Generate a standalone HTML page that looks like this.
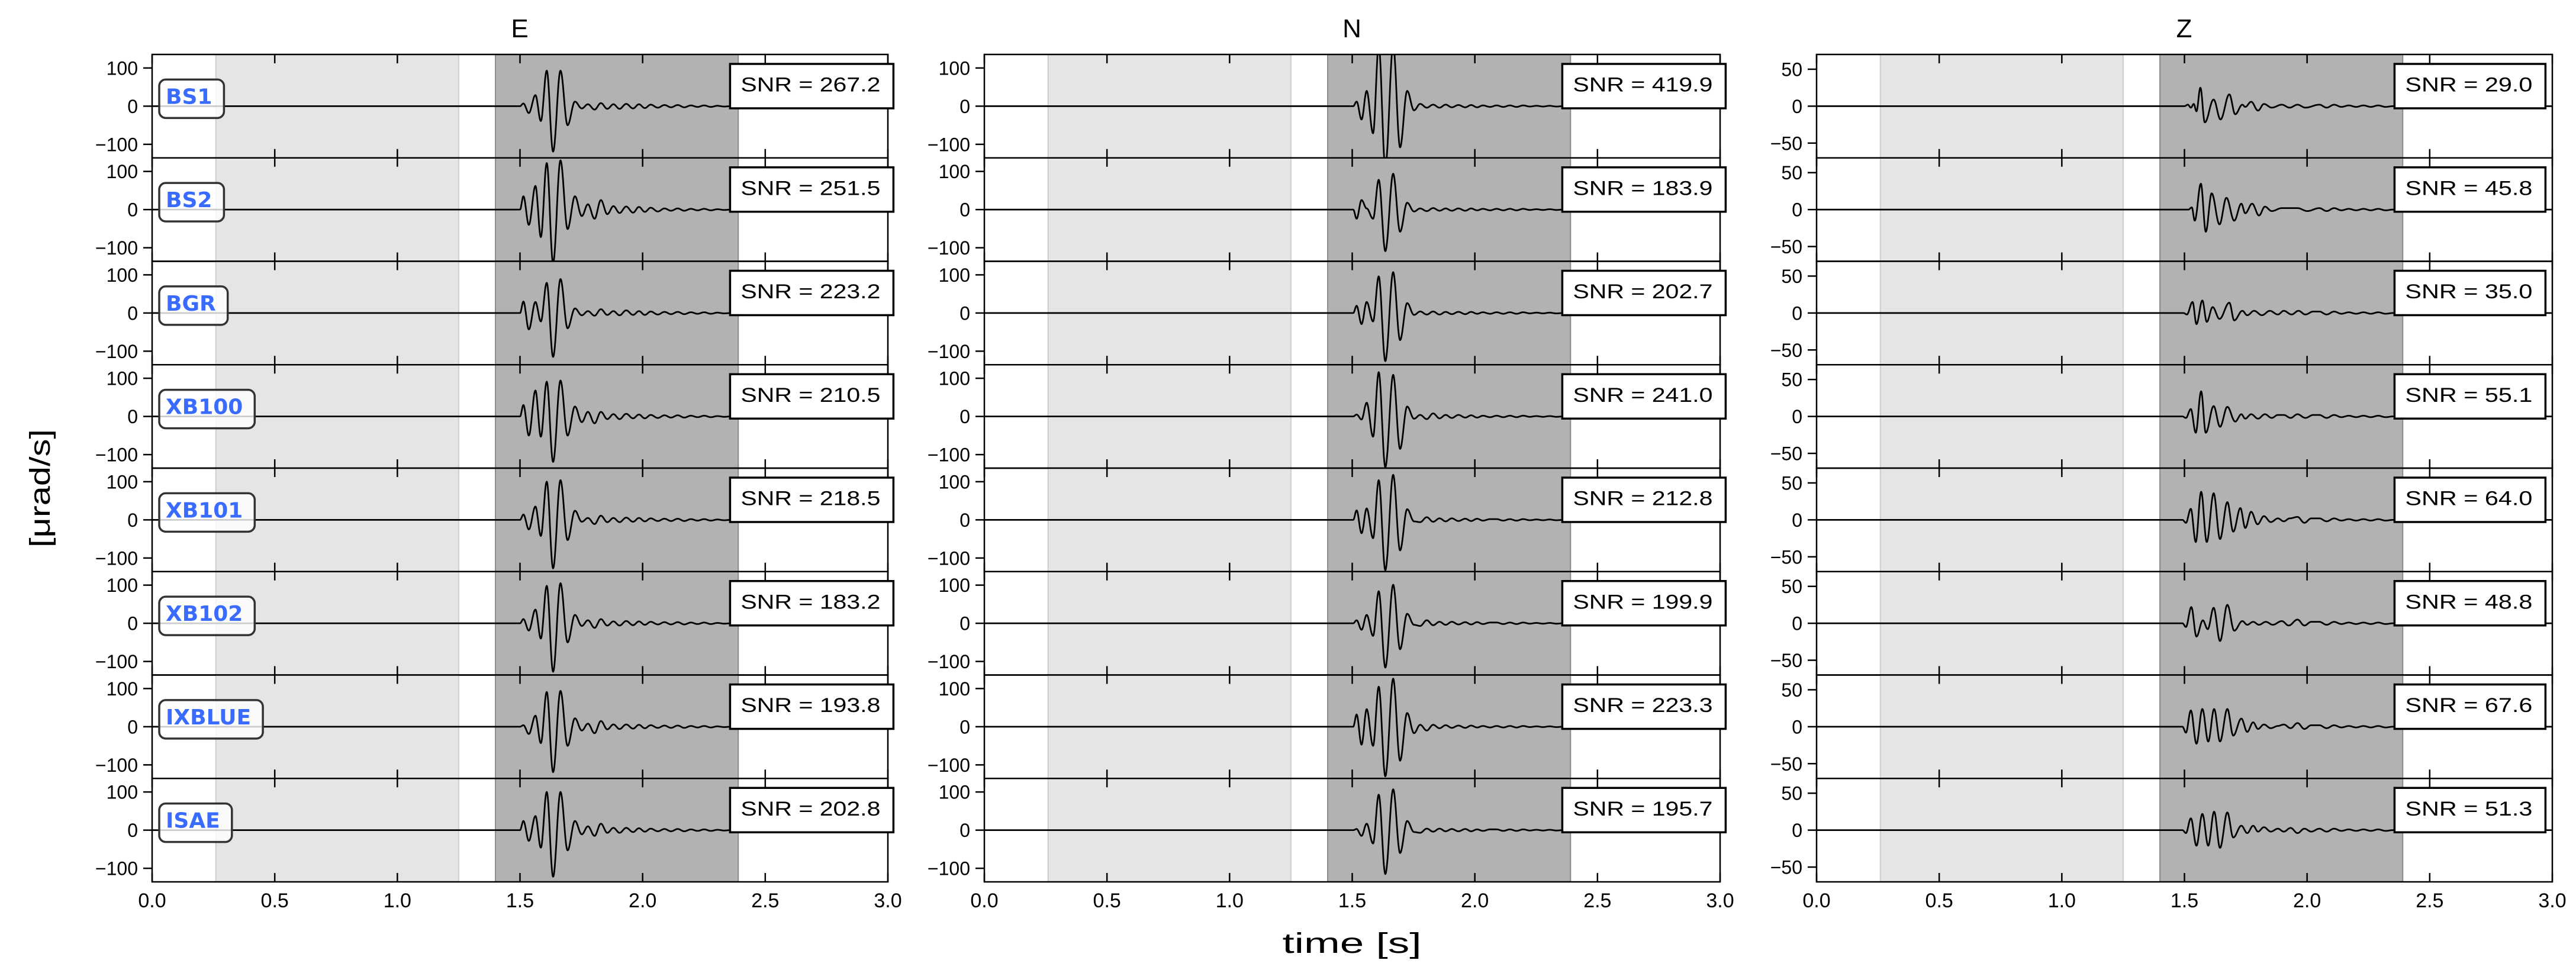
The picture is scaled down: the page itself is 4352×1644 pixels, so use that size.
<!DOCTYPE html>
<html><head><meta charset="utf-8">
<style>
html,body{margin:0;padding:0;background:#fff;}
svg{display:block;}
text{font-family:"Liberation Sans","DejaVu Sans",sans-serif;}
</style></head>
<body>
<svg id="fig" width="4352" height="1644" viewBox="0 0 4352 1644" xmlns="http://www.w3.org/2000/svg">
<rect width="4352" height="1644" fill="#fff"/>
<text x="878" y="63" font-size="44" text-anchor="middle">E</text>
<text x="2284" y="63" font-size="44" text-anchor="middle">N</text>
<text x="3690" y="63" font-size="44" text-anchor="middle">Z</text>
<text x="2284" y="1610" font-size="48" text-anchor="middle" textLength="235" lengthAdjust="spacingAndGlyphs">time [s]</text>
<text x="0" y="0" font-size="48" text-anchor="middle" transform="translate(84,825) rotate(-90)" textLength="200" lengthAdjust="spacingAndGlyphs">[μrad/s]</text>
<g id="plots"></g>
</svg>
<script>
const stations = ["BS1","BS2","BGR","XB100","XB101","XB102","IXBLUE","ISAE"];
const components = ["E","N","Z"];
const snrE = ["267.2","251.5","223.2","210.5","218.5","183.2","193.8","202.8"];
const snrN = ["419.9","183.9","202.7","241.0","212.8","199.9","223.3","195.7"];
const snrZ = ["29.0","45.8","35.0","55.1","64.0","48.8","67.6","51.3"];
const xTicks = [0,0.5,1.0,1.5,2.0,2.5,3.0];
const xTickLabels = ["0.0","0.5","1.0","1.5","2.0","2.5","3.0"];
const yTicksEN = [100,0,-100];
const yTicksZ = [50,0,-50];
const yLimEN = 135.5;
const yLimZ = 70;
const noiseWindow = [0.26,1.25];
const signalWindow = [1.40,2.39];

const eTimes = [1.514,1.536,1.563,1.585,1.609,1.635,1.665,1.694,1.724,1.752,1.777,1.804,1.830,1.856,1.881,1.906,1.933,1.961,1.985,2.009,2.033,2.062];
const eBS1   = [7,-18,29,-39,93,-119,93,-50,12,-6,5,-9,8,-7,5,-7,6,-6,5,-5,4,-4];
const eBS2   = [35,-40,62,-72,122,-140,129,-51,35,-17,14,-24,25,-12,9,-9,8,-8,7,-6,5,-5];
const eBGR   = [30,-43,29,-22,79,-115,89,-40,12,-6,5,-7,10,-5,5,-6,7,-5,5,-5,4,-4];
const eXB100 = [30,-50,68,-53,91,-119,94,-50,26,-15,12,-18,12,-7,6,-7,7,-5,5,-5,4,-4];
const eXB101 = [14,-25,35,-42,100,-127,104,-53,24,-5,5,-11,11,-6,5,-6,6,-5,5,-4,4,-3];
const eXB102 = [11,-19,36,-40,98,-127,105,-50,22,-7,8,-12,11,-6,5,-6,6,-5,5,-4,4,-3];
const eIXBLUE= [4,-19,29,-43,91,-119,94,-50,22,-10,8,-17,15,-7,6,-6,6,-5,5,-4,4,-3];
const eISAE  = [24,-28,37,-46,100,-122,100,-53,24,-11,10,-15,17,-7,6,-7,6,-5,5,-4,4,-3];
const eCodaTimes = [2.089,2.116,2.143,2.170,2.197,2.224,2.251,2.278,2.305,2.332,2.359];
const eCodaVals  = [3,-3,3,-3,2,-2,2,-2,1,-1,0];

const nTimes = [1.518,1.538,1.559,1.585,1.608,1.635,1.667,1.695,1.724,1.752,1.777,1.804,1.830,1.856,1.881,1.906,1.933,1.961,1.985,2.009,2.033,2.062];
const nBS1   = [12,-35,40,-71,160,-160,160,-108,40,-11,6,-4,4,-4,4,-3,3,-3,3,-3,2,-2];
const nBS2   = [-24,25,3,-24,78,-109,94,-58,18,-5,3,-4,4,-3,3,-3,3,-3,3,-2,2,-2];
const nBGR   = [19,-29,29,-22,96,-126,107,-71,26,-5,4,-4,4,-4,3,-3,3,-3,3,-2,2,-2];
const nXB100 = [5,-8,36,-53,116,-133,109,-85,26,-6,4,-7,8,-5,4,-4,4,-3,3,-3,2,-2];
const nXB101 = [25,-35,30,-48,104,-132,118,-80,28,-4,-6,7,-5,4,-4,4,-3,3,-3,3,-2,2];
const nXB102 = [8,-17,22,-33,84,-116,101,-68,25,-4,-7,8,-5,4,-4,4,-3,3,-3,3,-2,2];
const nIXBLUE= [32,-47,46,-50,105,-130,126,-89,36,-17,5,-10,5,-4,4,-3,3,-3,3,-2,2,-2];
const nISAE  = [3,-15,17,-35,93,-115,107,-60,24,-5,-7,4,-4,4,-3,3,-3,3,-3,2,-2,2];
const nCodaTimes = [2.089,2.116,2.143,2.170,2.197,2.224,2.251,2.278,2.305,2.332,2.359];
const nCodaVals  = [2,-2,2,-2,2,-1,1,-1,1,-1,0];

const zBS1Times = [1.514,1.526,1.538,1.549,1.565,1.583,1.619,1.647,1.683,1.707,1.736,1.748,1.772,1.800,1.824,1.856,1.897,1.929,1.961,1.993];
const zBS1      = [2,-2,3,-7,25,-22,9,-18,16,-11,2,-1,6,-6,3,-2,2,-2,2,-2];
const zBS2Times = [1.530,1.542,1.567,1.587,1.611,1.643,1.671,1.703,1.732,1.748,1.776,1.804,1.828,1.856,1.897,1.961,2.001];
const zBS2      = [3,-15,35,-30,22,-20,16,-15,8,-5,8,-8,4,-2,2,2,-2];
const zBGRTimes = [1.510,1.533,1.549,1.573,1.591,1.615,1.643,1.683,1.703,1.736,1.756,1.784,1.816,1.848,1.881,1.905,1.937,1.965,1.993,2.025];
const zBGR      = [-2,15,-15,17,-12,8,-8,14,-10,3,-3,3,-3,3,-2,3,-2,3,-2,2];
const zXB100Times = [1.506,1.526,1.546,1.568,1.587,1.619,1.645,1.675,1.707,1.732,1.748,1.772,1.800,1.828,1.856,1.881,1.905,1.933,1.961,1.993,2.025];
const zXB100      = [-2,10,-22,34,-22,14,-14,13,-7,3,-3,3,-3,3,-2,2,2,-2,3,-2,2];
const zXB101Times = [1.506,1.526,1.546,1.568,1.591,1.619,1.645,1.675,1.699,1.728,1.748,1.772,1.798,1.824,1.852,1.881,1.905,1.929,1.961,1.989,2.017];
const zXB101      = [-4,15,-30,38,-30,36,-26,24,-16,16,-11,11,-6,5,-3,2,-2,2,4,-4,2];
const zXB102Times = [1.506,1.528,1.549,1.575,1.595,1.619,1.645,1.675,1.703,1.736,1.756,1.780,1.804,1.832,1.860,1.897,1.925,1.961,1.989,2.017];
const zXB102      = [-5,22,-18,4,-8,21,-24,25,-10,3,-2,2,-2,2,-2,3,-3,5,-3,2];
const zIXBLUETimes = [1.506,1.526,1.549,1.573,1.597,1.621,1.645,1.675,1.699,1.732,1.756,1.780,1.800,1.824,1.852,1.881,1.905,1.933,1.961,1.989,2.017];
const zIXBLUE      = [-8,22,-23,24,-20,24,-20,24,-12,11,-7,6,-3,3,-2,1,3,-2,5,-3,2];
const zISAETimes   = [1.506,1.526,1.549,1.573,1.597,1.621,1.645,1.675,1.699,1.732,1.756,1.780,1.800,1.824,1.852,1.881,1.905,1.933,1.961,1.989,2.017];
const zISAE        = [-4,16,-21,22,-21,25,-24,24,-10,6,-4,6,-2,4,-2,2,-2,3,-4,2,-2];
const zCodaTimes = [2.05,2.08,2.11,2.14,2.17,2.20,2.23,2.26,2.29,2.32,2.35];
const zCodaVals  = [2,-2,2,-1,1,-1,1,-1,1,-1,0];

const eVals = [eBS1,eBS2,eBGR,eXB100,eXB101,eXB102,eIXBLUE,eISAE];
const nVals = [nBS1,nBS2,nBGR,nXB100,nXB101,nXB102,nIXBLUE,nISAE];
const zVals = [zBS1,zBS2,zBGR,zXB100,zXB101,zXB102,zIXBLUE,zISAE];
const zTimes = [zBS1Times,zBS2Times,zBGRTimes,zXB100Times,zXB101Times,zXB102Times,zIXBLUETimes,zISAETimes];

const NS = "http://www.w3.org/2000/svg";
const root = document.getElementById("plots");
const colX = [257,1663,3069], PW = 1243, TOP = 92, PH = 174.75;
function xs(c,t){ return colX[c] + t/3*PW; }
function ys(r,v,lim){ return TOP + r*PH + PH/2 - v/lim*(PH/2); }
function mk(tag, attrs, parent){
  const e = document.createElementNS(NS, tag);
  for (const k in attrs) e.setAttribute(k, attrs[k]);
  (parent||root).appendChild(e);
  return e;
}
const defs = mk("defs", {});

for (let c=0;c<3;c++){
  const lim = c===2 ? yLimZ : yLimEN;
  const yt = c===2 ? yTicksZ : yTicksEN;
  const snr = c===0 ? snrE : (c===1 ? snrN : snrZ);
  for (let r=0;r<8;r++){
    const top = TOP + r*PH;
    const g = mk("g", {});
    
    
    const cp = mk("clipPath", {id:"cp"+c+"_"+r}, defs);
    mk("rect", {x:colX[c], y:top, width:PW, height:PH}, cp);
    const nw = mk("rect", {x:xs(c,noiseWindow[0]), y:top, width:xs(c,noiseWindow[1])-xs(c,noiseWindow[0]), height:PH, fill:"#e5e5e5", stroke:"#cdcdcd", "stroke-width":2}, g);
    
    
    const sw = mk("rect", {x:xs(c,signalWindow[0]), y:top, width:xs(c,signalWindow[1])-xs(c,signalWindow[0]), height:PH, fill:"#b2b2b2", stroke:"#8a8a8a", "stroke-width":2}, g);
    
    

    let times, vals, codaT, codaV;
    if (c===0){ times=eTimes; vals=eVals[r]; codaT=eCodaTimes; codaV=eCodaVals; }
    else if (c===1){ times=nTimes; vals=nVals[r]; codaT=nCodaTimes; codaV=nCodaVals; }
    else { times=zTimes[r]; vals=zVals[r]; codaT=zCodaTimes; codaV=zCodaVals; }
    const pts = [[0,0],[times[0]-0.014,0]];
    for (let i=0;i<times.length;i++) pts.push([times[i], vals[i]]);
    const lastT = times[times.length-1];
    for (let i=0;i<codaT.length;i++) if (codaT[i] > lastT+0.015) pts.push([codaT[i], codaV[i]]);
    pts.push([pts[pts.length-1][0]+0.02,0]);
    pts.push([3,0]);
    let d = "M"+xs(c,0).toFixed(1)+","+ys(r,0,lim).toFixed(1);
    for (let i=1;i<pts.length;i++){
      const [t0,v0]=pts[i-1],[t1,v1]=pts[i];
      const n = Math.max(1, Math.ceil((t1-t0)/0.0015));
      if (v0===0 && v1===0){ d += "L"+xs(c,t1).toFixed(1)+","+ys(r,0,lim).toFixed(1); continue; }
      for (let k=1;k<=n;k++){
        const u=k/n, v=v0+(v1-v0)*(1-Math.cos(Math.PI*u))/2;
        d += "L"+xs(c,t0+(t1-t0)*u).toFixed(1)+","+ys(r,v,lim).toFixed(1);
      }
    }
    const wf = mk("path", {d:d, fill:"none", stroke:"#000", "stroke-width":2.8, "stroke-linejoin":"round", "clip-path":"url(#cp"+c+"_"+r+")"}, g);
    
    

    for (let i=0;i<xTicks.length;i++){
      const x = xs(c,xTicks[i]);
      mk("line", {x1:x, x2:x, y1:top, y2:top+15, stroke:"#000", "stroke-width":2.5}, g);
      mk("line", {x1:x, x2:x, y1:top+PH, y2:top+PH-15, stroke:"#000", "stroke-width":2.5}, g);
    }
    for (let i=0;i<yt.length;i++){
      const y = ys(r,yt[i],lim);
      mk("line", {x1:colX[c]-15, x2:colX[c], y1:y, y2:y, stroke:"#000", "stroke-width":2.5}, g);
      const tl = mk("text", {x:colX[c]-24, y:y+11.5, "font-size":32, "text-anchor":"end"}, g);
      tl.textContent = yt[i]<0 ? "\u2212"+Math.abs(yt[i]) : String(yt[i]);
      
      
    }
    const sp = mk("rect", {x:colX[c], y:top, width:PW, height:PH, fill:"none", stroke:"#000", "stroke-width":2.5}, g);
    
    

    const tx = colX[c] + 0.8*PW;
    const tw = snr[r].length>=5 ? 236 : 215;
    const sb = mk("rect", {x:tx-18, y:top+16, width:tw+40, height:75, fill:"#fff", stroke:"#000", "stroke-width":3.5}, g);
    
    
    const st = mk("text", {x:tx, y:top+62.5, "font-size":34, textLength:tw, lengthAdjust:"spacingAndGlyphs"}, g);
    st.textContent = "SNR = " + snr[r];
    
    

    if (c===0){
      const z0 = ys(r,0,lim);
      const lb = mk("rect", {x:269, y:z0-45, width:100, height:65, rx:11, ry:11, fill:"rgba(255,255,255,0.8)", stroke:"#333", "stroke-width":3.5}, g);
      
      
      const lt = mk("text", {x:280, y:z0-4, "font-size":36, "font-weight":"bold", fill:"#3a6bff", style:'font-family:"DejaVu Sans","Liberation Sans",sans-serif'}, g);
      lt.textContent = stations[r];
      
      
      const w = lt.getComputedTextLength();
      lb.setAttribute("width", (w+31).toFixed(1));
    }
  }
  for (let i=0;i<xTicks.length;i++){
    const xl = mk("text", {x:xs(c,xTicks[i]), y:1533, "font-size":34, "text-anchor":"middle"});
    xl.textContent = xTickLabels[i];
    
    
  }
}
</script>
</body></html>
